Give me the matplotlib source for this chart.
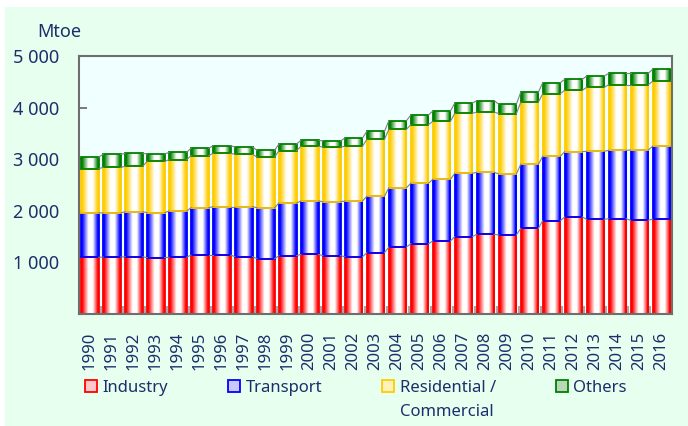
import numpy as np
import matplotlib
matplotlib.use('Agg')
import matplotlib.pyplot as plt
from matplotlib.colors import LinearSegmentedColormap
from matplotlib.patches import Patch, Rectangle

years = [str(y) for y in range(1990, 2017)]
industry = [1100, 1105, 1110, 1092, 1100, 1143, 1143, 1111, 1072, 1130, 1156, 1130, 1110, 1188,
            1298, 1362, 1415, 1499, 1545, 1531, 1660, 1808, 1880, 1835, 1847, 1815, 1841]
transport = [863, 852, 873, 871, 896, 917, 937, 969, 988, 1021, 1034, 1046, 1080, 1093,
             1150, 1171, 1195, 1227, 1201, 1182, 1241, 1248, 1266, 1318, 1325, 1363, 1409]
residential = [853, 886, 879, 996, 995, 1008, 1034, 1014, 983, 1014, 1060, 1060, 1060, 1104,
               1131, 1136, 1124, 1163, 1169, 1169, 1202, 1214, 1189, 1240, 1272, 1266, 1260]
others = [227, 251, 252, 142, 142, 143, 148, 142, 129, 130, 116, 117, 161, 155,
          167, 188, 200, 200, 219, 182, 194, 213, 213, 219, 220, 220, 232]
series_names = ['Industry', 'Transport', 'Residential /', 'Others']
series_colors = ['#FF0000', '#0000FF', '#FFCC00', '#008000']
legend_fills = ['#FFC8C8', '#C8C8FF', '#FFF2B8', '#B8D8B8']

TEXT = '#1C2E6B'
plt.rcParams['font.family'] = ['Noto Sans', 'DejaVu Sans']


def gradient_bars(ax, x, heights, bottom, color, width=0.8):
    """bars with a colour-white-colour fill, like the office chart"""
    cmap = LinearSegmentedColormap.from_list('g', [(0, color), (0.07, color), (0.42, 'white'),
                                                   (0.66, 'white'), (0.94, color), (1, color)])
    bars = ax.bar(x, heights, width, bottom=bottom, facecolor='none', edgecolor=color,
                  linewidth=1.3, zorder=3)
    grad = np.linspace(0, 1, 128).reshape(1, -1)
    for p in bars:
        im = ax.imshow(grad, cmap=cmap, aspect='auto', zorder=2, interpolation='bilinear',
                       extent=[p.get_x(), p.get_x() + p.get_width(), p.get_y(), p.get_y() + p.get_height()])
        im.set_clip_path(p) #gradient stays inside the bar
    return bars


if __name__ == "__main__":
    fig = plt.figure(figsize=(6.88, 4.26), dpi=100, facecolor='white')
    fig.patches.append(Rectangle((5 / 688, 0), 1, 419 / 426, transform=fig.transFigure,
                                 facecolor='#E6FFEE', edgecolor='none', zorder=-1)) #light green background
    ax = fig.add_axes([0.1148, 0.2629, 0.8625, 0.6056])
    ax.set_facecolor('#F0FFFF')

    x = np.arange(len(years))
    w = 0.8
    bottom = np.zeros(len(years))
    for vals, col in zip([industry, transport, residential, others], series_colors):
        gradient_bars(ax, x, vals, bottom, col, w)
        bottom = bottom + np.array(vals)
        for i in range(len(x) - 1): #series lines between bar tops
            ax.plot([x[i] + w / 2, x[i + 1] - w / 2], [bottom[i], bottom[i + 1]],
                    color='#808080', linewidth=0.8, zorder=4)

    ax.set_xlim(-0.5, len(years) - 0.5)
    ax.set_ylim(0, 5000)
    ax.set_yticks([1000, 2000, 3000, 4000, 5000])
    ax.set_yticklabels(['1 000', '2 000', '3 000', '4 000', '5 000'])
    ax.set_xticks(x)
    ax.set_xticklabels(years, rotation=90)
    ax.set_xticks(np.arange(-0.5, len(years)), minor=True)
    ax.tick_params(axis='y', direction='in', length=6, width=1.3, color='#707070',
                   labelsize=13, labelcolor=TEXT, pad=14)
    ax.tick_params(axis='x', which='major', length=0, labelsize=12, labelcolor=TEXT, pad=13)
    ax.tick_params(axis='x', which='minor', direction='in', length=6, width=1.3, color='#A0A0A0')
    for s in ax.spines.values():
        s.set_color('#6E6E6E')
        s.set_linewidth(1.5)
        s.set_zorder(5)

    fig.text(37 / 688, 1 - 32 / 426, 'Mtoe', fontsize=13, color=TEXT, va='center') #unit label

    handles = [Patch(facecolor=f, edgecolor=c, linewidth=1.3) for f, c in zip(legend_fills, series_colors)]
    leg = fig.legend(handles, series_names, loc='upper left', ncol=4, frameon=False,
                     bbox_to_anchor=(85 / 688, 1 - 380 / 426), bbox_transform=fig.transFigure,
                     fontsize=12, handlelength=0.7, handleheight=0.7, handletextpad=0.35,
                     columnspacing=3.6, borderpad=0, borderaxespad=0)
    for t in leg.get_texts():
        t.set_color(TEXT)

    fig.canvas.draw()
    bb = leg.get_texts()[2].get_window_extent()
    fig.text(bb.x0 / fig.bbox.width, ((bb.y0 + bb.y1) / 2 - 24) / fig.bbox.height, 'Commercial',
             fontsize=12, color=TEXT, va='center', ha='left') #second line of the legend label

    fig.savefig('out.png', dpi=100, facecolor=fig.get_facecolor())
